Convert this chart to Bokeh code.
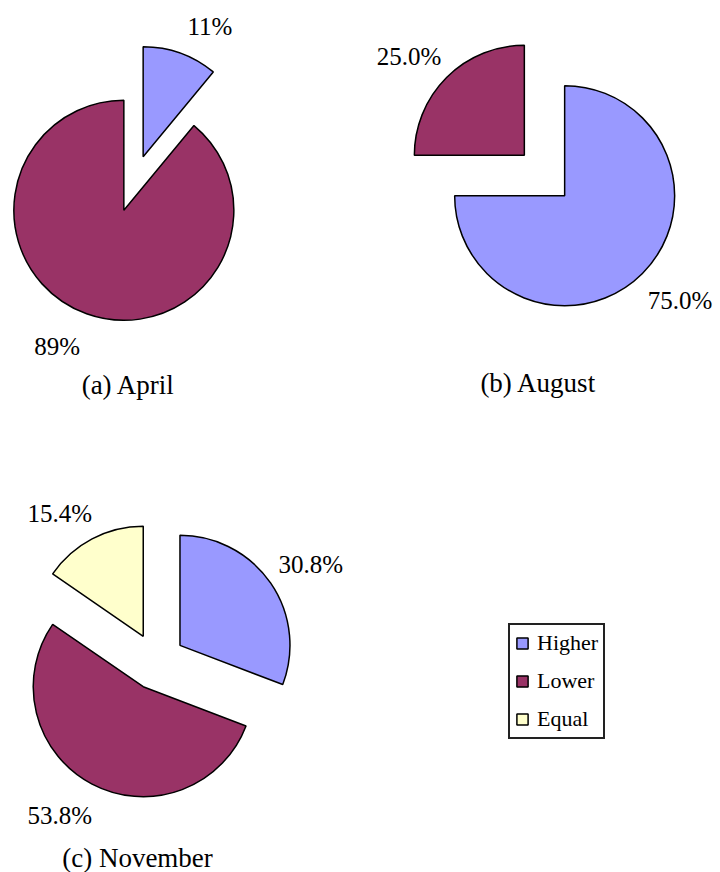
import math
from bokeh.plotting import figure
from bokeh.models import ColumnDataSource, Range1d, Legend, LegendItem
from bokeh.core.properties import value
from bokeh.embed import file_html
from bokeh.resources import INLINE

# ---- data ----
categories = ["Higher", "Lower", "Equal"]
colors = ["#9999FF", "#993366", "#FFFFCC"]
captions = ["(a) April", "(b) August", "(c) November"]
april_pct = [11, 89, 0]
august_pct = [75.0, 25.0, 0]
november_pct = [30.8, 53.8, 15.4]
label_decimals = [0, 1, 1]

# ---- layout (pixel units, y up) ----
W, H = 720, 872
centers = [(133, 689), (544, 697), (156, 211)]
caption_pos = [(128, 488), (538, 490), (137, 15)]
R = 110
EXPLODE = 28.5
LABEL_R = 132      # radial distance of label anchor from slice apex
LABEL_DX = 22      # horizontal shift of label centre away from pie
LABEL_DY = 9       # vertical shift of label centre away from pie
FONT = "Liberation Serif"

p = figure(width=W, height=H, x_range=Range1d(0, W), y_range=Range1d(0, H),
           output_backend="svg", toolbar_location=None,
           x_axis_location=None, y_axis_location=None, min_border=0)
p.grid.visible = False
p.outline_line_color = None
p.background_fill_color = "white"
p.border_fill_color = "white"

series = [april_pct, august_pct, november_pct]
wedge_data = {c: dict(x=[], y=[], start=[], end=[]) for c in categories}
lab = dict(x=[], y=[], text=[])
for (cx, cy), vals, dec in zip(centers, series, label_decimals):
    total = float(sum(vals))
    cum = 0.0
    for cat, v in zip(categories, vals):
        if v <= 0:
            continue
        a = cum / total
        b = (cum + v) / total
        cum += v
        start = math.pi / 2 - 2 * math.pi * b
        end = math.pi / 2 - 2 * math.pi * a
        mid = (start + end) / 2
        ux, uy = math.cos(mid), math.sin(mid)
        ox = cx + EXPLODE * ux
        oy = cy + EXPLODE * uy
        d = wedge_data[cat]
        d["x"].append(ox); d["y"].append(oy)
        d["start"].append(start); d["end"].append(end)
        lx = ox + LABEL_R * ux + math.copysign(LABEL_DX, ux)
        ly = oy + LABEL_R * uy + math.copysign(LABEL_DY, uy) - 3
        lab["x"].append(lx); lab["y"].append(ly)
        lab["text"].append(f"{v:.{dec}f}%")

items = []
for cat, col in zip(categories, colors):
    r = p.wedge(x="x", y="y", radius=R, start_angle="start", end_angle="end",
                source=ColumnDataSource(wedge_data[cat]), fill_color=col,
                line_color="black", line_width=1.5)
    items.append(LegendItem(label=cat, renderers=[r]))

p.text(x="x", y="y", text="text", text_align="center", text_baseline="middle",
       source=ColumnDataSource(lab), text_font=value(FONT),
       text_font_size=value("25px"), text_color="black")

p.text(x=[c[0] for c in caption_pos], y=[c[1] for c in caption_pos], text=captions,
       text_align="center", text_baseline="middle", text_font=value(FONT),
       text_font_size=value("27px"), text_color="black")

legend = Legend(items=items, location=(508, 133), orientation="vertical",
                border_line_color="#222222", border_line_width=2, border_line_alpha=1,
                background_fill_color="white", background_fill_alpha=1,
                label_text_font=FONT, label_text_font_size="22px",
                label_text_color="black",
                glyph_width=14, glyph_height=14, label_standoff=8,
                spacing=12, padding=5, margin=0)
p.add_layout(legend)

open("out.html", "w").write(file_html(p, INLINE))
